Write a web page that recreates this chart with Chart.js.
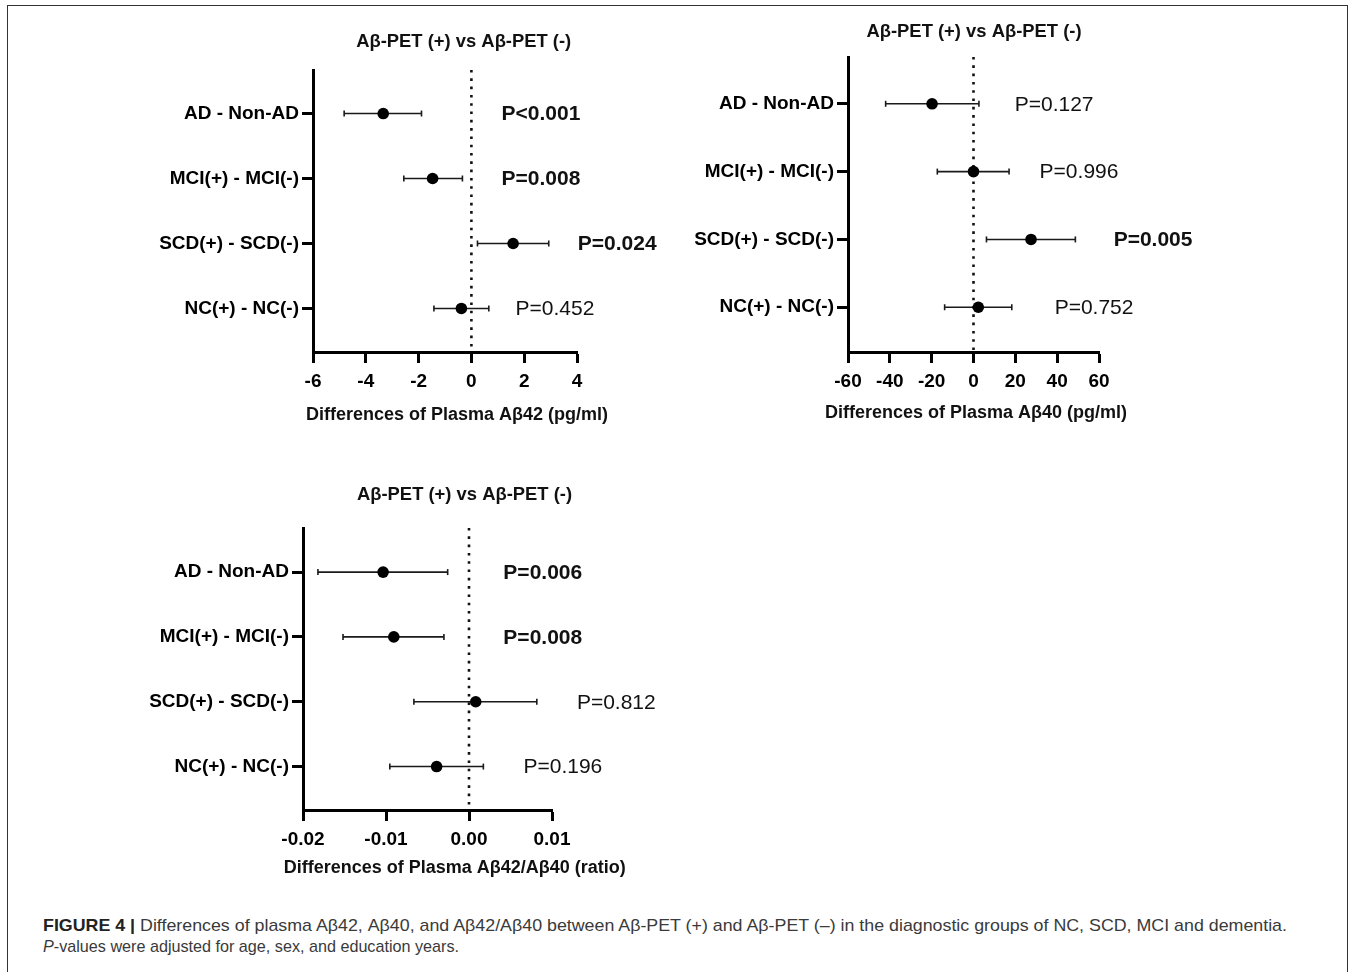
<!DOCTYPE html>
<html><head><meta charset="utf-8">
<script src="https://cdn.jsdelivr.net/npm/chart.js@4.4.1/dist/chart.umd.min.js"></script>
<style>
html,body{margin:0;padding:0;background:#fff}
body{width:1357px;height:972px;overflow:hidden;position:relative;font-family:'Liberation Sans',Arial,sans-serif}
#frame{position:absolute;left:7px;top:5px;width:1341px;height:990px;border:1.5px solid #333;border-bottom:none;box-sizing:border-box}
canvas.c{position:absolute}
.cap{position:absolute;left:43px;font-size:17px;color:#3a3a3a;white-space:nowrap;transform-origin:0 50%;display:inline-block}
.cap b{color:#222}
</style></head>
<body>
<div id="frame"></div>
<canvas class="c" id="c1" width="540" height="425" style="left:150px;top:15px"></canvas>
<canvas class="c" id="c2" width="560" height="430" style="left:690px;top:10px"></canvas>
<canvas class="c" id="c3" width="560" height="420" style="left:140px;top:470px"></canvas>
<span class="cap" id="cap1" style="top:916px"><b>FIGURE 4 |</b> Differences of plasma Aβ42, Aβ40, and Aβ42/Aβ40 between Aβ-PET (+) and Aβ-PET (–) in the diagnostic groups of NC, SCD, MCI and dementia.</span>
<span class="cap" id="cap2" style="top:937px"><i>P</i>-values were adjusted for age, sex, and education years.</span>
<script>
// ---------- data ----------
const categories = ['AD - Non-AD', 'MCI(+) - MCI(-)', 'SCD(+) - SCD(-)', 'NC(+) - NC(-)'];
const rowIndex = [1, 2, 3, 4];
const panelTitle = 'Aβ-PET (+) vs Aβ-PET (-)';

const ab42Mean = [-3.34, -1.47, 1.58, -0.38];
const ab42Low  = [-4.82, -2.56, 0.23, -1.42];
const ab42High = [-1.89, -0.34, 2.93, 0.66];
const ab42P    = ['P<0.001', 'P=0.008', 'P=0.024', 'P=0.452'];
const ab42Sig  = [true, true, true, false];
const ab42Ticks = [-6, -4, -2, 0, 2, 4];

const ab40Mean = [-19.8, 0.0, 27.5, 2.3];
const ab40Low  = [-42.0, -17.3, 6.2, -13.8];
const ab40High = [2.6, 17.0, 48.7, 18.3];
const ab40P    = ['P=0.127', 'P=0.996', 'P=0.005', 'P=0.752'];
const ab40Sig  = [false, false, true, false];
const ab40Ticks = [-60, -40, -20, 0, 20, 40, 60];

const ratioMean = [-0.01035, -0.00906, 0.00081, -0.0039];
const ratioLow  = [-0.0182, -0.01518, -0.00664, -0.00954];
const ratioHigh = [-0.00257, -0.00302, 0.00817, 0.00173];
const ratioP    = ['P=0.006', 'P=0.008', 'P=0.812', 'P=0.196'];
const ratioSig  = [true, true, false, false];
const ratioTicks = ['-0.02', '-0.01', '0.00', '0.01'];

// ---------- layout (pixels / label anchors) ----------
const FONT = "'Liberation Sans', Arial, sans-serif";
const panels = [
  { id: 'c1', mean: ab42Mean, low: ab42Low, high: ab42High, p: ab42P, sig: ab42Sig,
    ticks: ab42Ticks.map(Number), tickText: ab42Ticks.map(String),
    axisTitle: 'Differences of Plasma Aβ42 (pg/ml)',
    pAnchor: [1.14, 1.14, 4.03, 1.67],
    yMin: 0.33, yMax: 4.67, yW: 163, xH: 88, pad: { left: 0, top: 55, right: 113, bottom: 0 },
    titleX: 313.7, titleDY: -28.3, axTitleX: 307, axTitleDY: 63 },
  { id: 'c2', mean: ab40Mean, low: ab40Low, high: ab40High, p: ab40P, sig: ab40Sig,
    ticks: ab40Ticks.map(Number), tickText: ab40Ticks.map(String),
    axisTitle: 'Differences of Plasma Aβ40 (pg/ml)',
    pAnchor: [19.7, 31.6, 67.0, 38.8],
    yMin: 0.31, yMax: 4.66, yW: 158, xH: 88, pad: { left: 0, top: 47, right: 151, bottom: 0 },
    titleX: 284, titleDY: -25, axTitleX: 286, axTitleDY: 60.7 },
  { id: 'c3', mean: ratioMean, low: ratioLow, high: ratioHigh, p: ratioP, sig: ratioSig,
    ticks: ratioTicks.map(Number), tickText: ratioTicks,
    axisTitle: 'Differences of Plasma Aβ42/Aβ40 (ratio)',
    pAnchor: [0.00414, 0.00414, 0.0130, 0.00656],
    yMin: 0.32, yMax: 4.67, yW: 163, xH: 80, pad: { left: 0, top: 58, right: 148, bottom: 0 },
    titleX: 324.5, titleDY: -33, axTitleX: 314.7, axTitleDY: 58.3 }
];

const textPlugin = {
  id: 'panelText',
  afterDraw(chart, args, opts) {
    const P = opts.panel;
    const ctx = chart.ctx, a = chart.chartArea;
    const xs = chart.scales.x, ys = chart.scales.y;
    ctx.save();
    ctx.fillStyle = '#111';
    ctx.textBaseline = 'middle';
    // panel title
    ctx.textAlign = 'center';
    ctx.font = 'bold 18.4px ' + FONT;
    ctx.fillText(panelTitle, P.titleX, a.top + P.titleDY);
    // axis title
    ctx.font = 'bold 18px ' + FONT;
    ctx.fillText(P.axisTitle, P.axTitleX, a.bottom + P.axTitleDY);
    // p-values
    ctx.textAlign = 'left';
    P.p.forEach((t, i) => {
      ctx.font = (P.sig[i] ? 'bold ' : '') + '21px ' + FONT;
      ctx.fillText(t, xs.getPixelForValue(P.pAnchor[i]), ys.getPixelForValue(rowIndex[i]) + 1);
    });
    ctx.restore();
  }
};

panels.forEach(P => {
  const datasets = [];
  datasets.push({
    data: rowIndex.map((r, i) => ({ x: P.mean[i], y: r })),
    showLine: false, pointRadius: 5.8, pointHoverRadius: 5.8,
    backgroundColor: '#000', borderColor: '#000', borderWidth: 0, clip: false
  });
  rowIndex.forEach((r, i) => {
    datasets.push({
      data: [{ x: P.low[i], y: r }, { x: P.high[i], y: r }],
      showLine: true, borderColor: '#1a1a1a', borderWidth: 1.6,
      pointStyle: 'line', pointRotation: 90, pointRadius: 3, pointHoverRadius: 3,
      pointBorderColor: '#1a1a1a', pointBorderWidth: 1.6, clip: false
    });
  });
  datasets.push({
    data: [{ x: 0, y: P.yMin }, { x: 0, y: P.yMax }],
    showLine: true, borderColor: '#111', borderWidth: 2.6, borderDash: [2.6, 5.7],
    pointRadius: 0, clip: false
  });

  new Chart(document.getElementById(P.id), {
    type: 'scatter',
    data: { datasets },
    plugins: [textPlugin],
    options: {
      responsive: false, animation: false, devicePixelRatio: 1,
      layout: { padding: P.pad },
      plugins: { legend: { display: false }, tooltip: { enabled: false }, title: { display: false },
                 panelText: { panel: P } },
      scales: {
        x: {
          type: 'linear', min: P.ticks[0], max: P.ticks[P.ticks.length - 1],
          afterBuildTicks: s => { s.ticks = P.ticks.map(v => ({ value: v })); },
          afterFit: s => { s.height = P.xH; },
          border: { display: true, color: '#000', width: 3 },
          grid: { display: true, drawOnChartArea: false, drawTicks: true, tickLength: 11, tickWidth: 3, tickColor: '#000', color: '#000' },
          ticks: { color: '#000', padding: 7, maxRotation: 0, autoSkip: false,
                   font: { family: FONT, size: 19, weight: 'bold' },
                   callback: (v, i) => P.tickText[i] }
        },
        y: {
          type: 'linear', reverse: true, min: P.yMin, max: P.yMax,
          afterBuildTicks: s => { s.ticks = rowIndex.map(v => ({ value: v })); },
          afterFit: s => { s.width = P.yW; },
          border: { display: true, color: '#000', width: 3 },
          grid: { display: true, drawOnChartArea: false, drawTicks: true, tickLength: 11, tickWidth: 3, tickColor: '#000', color: '#000' },
          ticks: { color: '#000', padding: 3, autoSkip: false,
                   font: { family: FONT, size: 19, weight: 'bold' },
                   callback: (v, i) => categories[i] }
        }
      }
    }
  });
});

// fit caption lines to reference widths
[['cap1', 1244], ['cap2', 416]].forEach(([id, w]) => {
  const el = document.getElementById(id);
  const cur = el.getBoundingClientRect().width;
  el.style.transform = 'scaleX(' + (w / cur).toFixed(4) + ')';
});
</script>
</body></html>
